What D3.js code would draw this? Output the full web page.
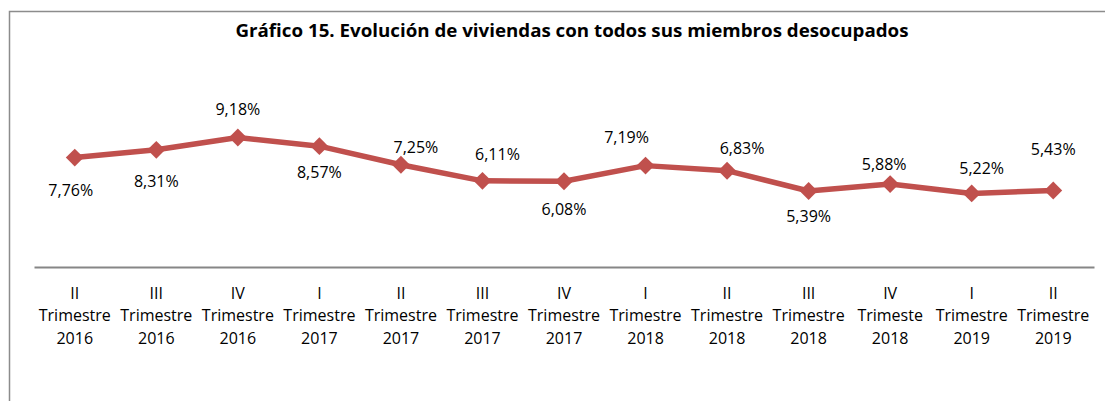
<!DOCTYPE html>
<html>
<head>
<meta charset="utf-8">
<script src="https://cdn.jsdelivr.net/npm/d3@7"></script>
<style>
  body { margin: 0; background: #fff; }
  text { font-family: "Open Sans", Lato, sans-serif; fill: #000; }
</style>
</head>
<body>
<svg id="chart" width="1105" height="401"></svg>
<script>
// quarters, one per point
const quarters = ["II", "III", "IV", "I", "II", "III", "IV", "I", "II", "III", "IV", "I", "II"];
const periodWords = ["Trimestre", "Trimestre", "Trimestre", "Trimestre", "Trimestre", "Trimestre", "Trimestre",
  "Trimestre", "Trimestre", "Trimestre", "Trimeste", "Trimestre", "Trimestre"];
const years = ["2016", "2016", "2016", "2017", "2017", "2017", "2017", "2018", "2018", "2018", "2018", "2019", "2019"];
const values = [7.76, 8.31, 9.18, 8.57, 7.25, 6.11, 6.08, 7.19, 6.83, 5.39, 5.88, 5.22, 5.43];

// label nudges, as placed in the original
const labelDx = [-4, 0, 0, 0, 15, 15, 0, -19, 15, 0, -6, 10, 0];
const labelDy = [33, 32, -28, 26, -17, -26, 28, -28, -22, 25, -20, -25, -41];

const svg = d3.select("#chart");
const title = "Gráfico 15. Evolución de viviendas con todos sus miembros desocupados";

const margin = {left: 34, right: 11, axisY: 267};

// outer frame of the chart area
svg.append("rect")
  .attr("x", 9.5)
  .attr("y", 11.5)
  .attr("width", 1120)
  .attr("height", 420)
  .attr("fill", "none")
  .attr("stroke", "#8c8c8c")
  .attr("stroke-width", 1.5);

svg.append("text")
  .attr("x", 572)
  .attr("y", 37)
  .attr("text-anchor", "middle")
  .style("font-size", "17px")
  .style("font-weight", "bold")
  .attr("textLength", 673)
  .attr("lengthAdjust", "spacingAndGlyphs")
  .text(title);

let idx = d3.range(values.length);

let x = d3.scaleBand()
  .domain(idx)
  .range([margin.left, 1105 - margin.right]);

let y = d3.scaleLinear()
  .domain([0, 10])
  .range([margin.axisY, 126]);

let cx = (i) => x(i) + x.bandwidth() / 2;

// category axis
let axis = d3.axisBottom(x).tickSize(0).tickFormat("");
let gAxis = svg.append("g")
  .attr("transform", "translate(0," + margin.axisY + ")")
  .call(axis);
gAxis.select(".domain")
  .attr("stroke", "#868686")
  .attr("stroke-width", 2);

let ticks = svg.append("g").selectAll("text")
  .data(idx)
  .enter()
  .append("text")
  .attr("text-anchor", "middle")
  .style("font-size", "16px")
  .attr("transform", (i) => "translate(" + cx(i) + ",0)");
ticks.append("tspan").attr("x", 0).attr("y", 299).text((i) => quarters[i]);
ticks.append("tspan").attr("x", 0).attr("y", 321).text((i) => periodWords[i]);
ticks.append("tspan").attr("x", 0).attr("y", 344).text((i) => years[i]);

// series line
let line = d3.line()
  .x((d, i) => cx(i))
  .y((d) => y(d));

svg.append("path")
  .datum(values)
  .attr("d", line)
  .attr("fill", "none")
  .attr("stroke", "#C0504D")
  .attr("stroke-width", 5.5)
  .attr("stroke-linejoin", "round");

svg.append("g").selectAll("path")
  .data(values)
  .enter()
  .append("path")
  .attr("d", d3.symbol().type(d3.symbolSquare).size(160))
  .attr("fill", "#C0504D")
  .attr("transform", (d, i) => "translate(" + cx(i) + "," + y(d) + ") rotate(45)");

svg.append("g").selectAll("text")
  .data(values)
  .enter()
  .append("text")
  .attr("x", (d, i) => cx(i) + labelDx[i])
  .attr("y", (d, i) => y(d) + labelDy[i])
  .attr("dy", "0.35em")
  .attr("text-anchor", "middle")
  .style("font-size", "16px")
  .text((d) => d.toFixed(2).replace(".", ",") + "%");
</script>
</body>
</html>
